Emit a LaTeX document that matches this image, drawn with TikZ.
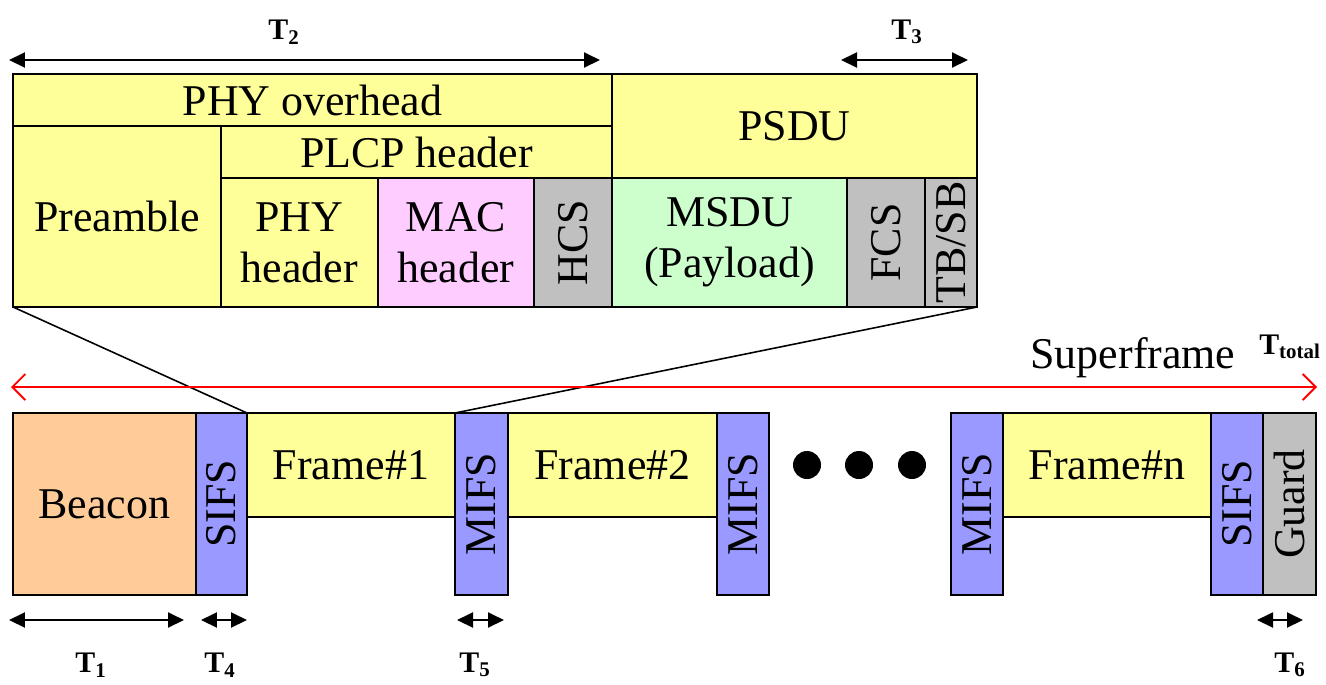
\documentclass[tikz,border=0pt]{standalone}
\usepackage{fontspec}
\setmainfont{Liberation Serif}
\usepackage{xcolor}
\usetikzlibrary{arrows.meta}
\definecolor{yel}{HTML}{FFFF99}
\definecolor{org}{HTML}{FFCC99}
\definecolor{blu}{HTML}{9999FF}
\definecolor{gry}{HTML}{C0C0C0}
\definecolor{pnk}{HTML}{FFCCFF}
\definecolor{grn}{HTML}{CCFFCC}
\begin{document}
\begin{tikzpicture}[
x=0.02cm,y=-0.02cm,
font=\fontsize{25}{29}\selectfont,
cell/.style={draw,line width=1.3pt,inner sep=0pt,outer sep=0pt,align=center},
sz/.style 2 args={minimum width=#1*0.02cm,minimum height=#2*0.02cm},
vlab/.style={label={[rotate=90]center:#1}},
tarr/.style={{Triangle[length=3.2mm,width=3mm]}-{Triangle[length=3.2mm,width=3mm]},line width=1.1pt},
sfarr/.style={{Straight Barb[length=2.6mm,width=5.2mm]}-{Straight Barb[length=2.6mm,width=5.2mm]},red,line width=1.1pt},
zoomln/.style={line width=0.9pt},
tlab/.style={font=\fontsize{17}{20}\selectfont\bfseries},
dot/.style={circle,fill,inner sep=0pt,minimum size=5.6mm}
]
\useasboundingbox (0,0) rectangle (1326,684);

% packet structure
\node[cell,fill=yel,sz={599}{52}] (phyoh) at (312.5,100) {PHY overhead};
\node[cell,fill=yel,sz={365}{104}] (psdu) at (794.5,126) {PSDU};
\node[cell,fill=yel,sz={208}{181}] (pre) at (117,216.5) {Preamble};
\node[cell,fill=yel,sz={391}{52}] (plcp) at (416.5,152) {PLCP header};
\node[cell,fill=yel,sz={157}{129}] (phyh) at (299.5,242.5) {PHY\\header};
\node[cell,fill=pnk,sz={156}{129}] (mach) at (456,242.5) {MAC\\header};
\node[cell,fill=gry,sz={78}{129},vlab=HCS] (hcs) at (573,242.5) {};
\node[cell,fill=grn,sz={235}{129}] (msdu) at (729.5,242.5) {MSDU\\(Payload)};
\node[cell,fill=gry,sz={78}{129},vlab=FCS] (fcs) at (886,242.5) {};
\node[cell,fill=gry,sz={52}{129},vlab=TB/SB] (tbsb) at (951,242.5) {};

% superframe
\node[cell,fill=org,sz={183}{182}] (beacon) at (104.5,504) {Beacon};
\node[cell,fill=blu,sz={51}{182},vlab=SIFS] (sifsa) at (221.5,504) {};
\node[cell,fill=yel,sz={208}{104}] (fra) at (351,465) {Frame\#1};
\node[cell,fill=blu,sz={53}{182},vlab=MIFS] (mifsa) at (481.5,504) {};
\node[cell,fill=yel,sz={209}{104}] (frb) at (612.5,465) {Frame\#2};
\node[cell,fill=blu,sz={52}{182},vlab=MIFS] (mifsb) at (743,504) {};
\foreach \i/\xx in {1/807,2/859,3/912}
  \node[dot] (d\i) at (\xx,465) {};
\node[cell,fill=blu,sz={52}{182},vlab=MIFS] (mifsc) at (977,504) {};
\node[cell,fill=yel,sz={208}{104}] (frn) at (1107,465) {Frame\#n};
\node[cell,fill=blu,sz={52}{182},vlab=SIFS] (sifsb) at (1237,504) {};
\node[cell,fill=gry,sz={53}{182},vlab=Guard] (guard) at (1289.5,504) {};

% zoom lines
\draw[zoomln] (pre.south west) -- (sifsa.north east);
\draw[zoomln] (tbsb.south east) -- (mifsa.north west);

% superframe span
\coordinate (sfl) at (11,387);
\coordinate (sfr) at (1317,387);
\draw[sfarr] (sfl) -- (sfr);
\node (sflab) at (1133,358) {Superframe};
\node[tlab] (ttot) at (1290,347) {T\textsubscript{total}};

% durations
\coordinate (t2l) at (9,60);   \coordinate (t2r) at (600,60);
\coordinate (t3l) at (841,60); \coordinate (t3r) at (968,60);
\coordinate (t1l) at (9,620);  \coordinate (t1r) at (184,620);
\coordinate (t4l) at (201,620); \coordinate (t4r) at (247,620);
\coordinate (t5l) at (457,620); \coordinate (t5r) at (504,620);
\coordinate (t6l) at (1257,620); \coordinate (t6r) at (1303,620);
\draw[tarr] (t2l) -- (t2r);
\draw[tarr] (t3l) -- (t3r);
\draw[tarr] (t1l) -- (t1r);
\draw[tarr] (t4l) -- (t4r);
\draw[tarr] (t5l) -- (t5r);
\draw[tarr] (t6l) -- (t6r);
\node[tlab] (t2) at (284,32) {T\textsubscript{2}};
\node[tlab] (t3) at (907,32) {T\textsubscript{3}};
\node[tlab] (t1) at (91,665) {T\textsubscript{1}};
\node[tlab] (t4) at (220,665) {T\textsubscript{4}};
\node[tlab] (t5) at (475,665) {T\textsubscript{5}};
\node[tlab] (t6) at (1290,665) {T\textsubscript{6}};
\end{tikzpicture}
\end{document}
